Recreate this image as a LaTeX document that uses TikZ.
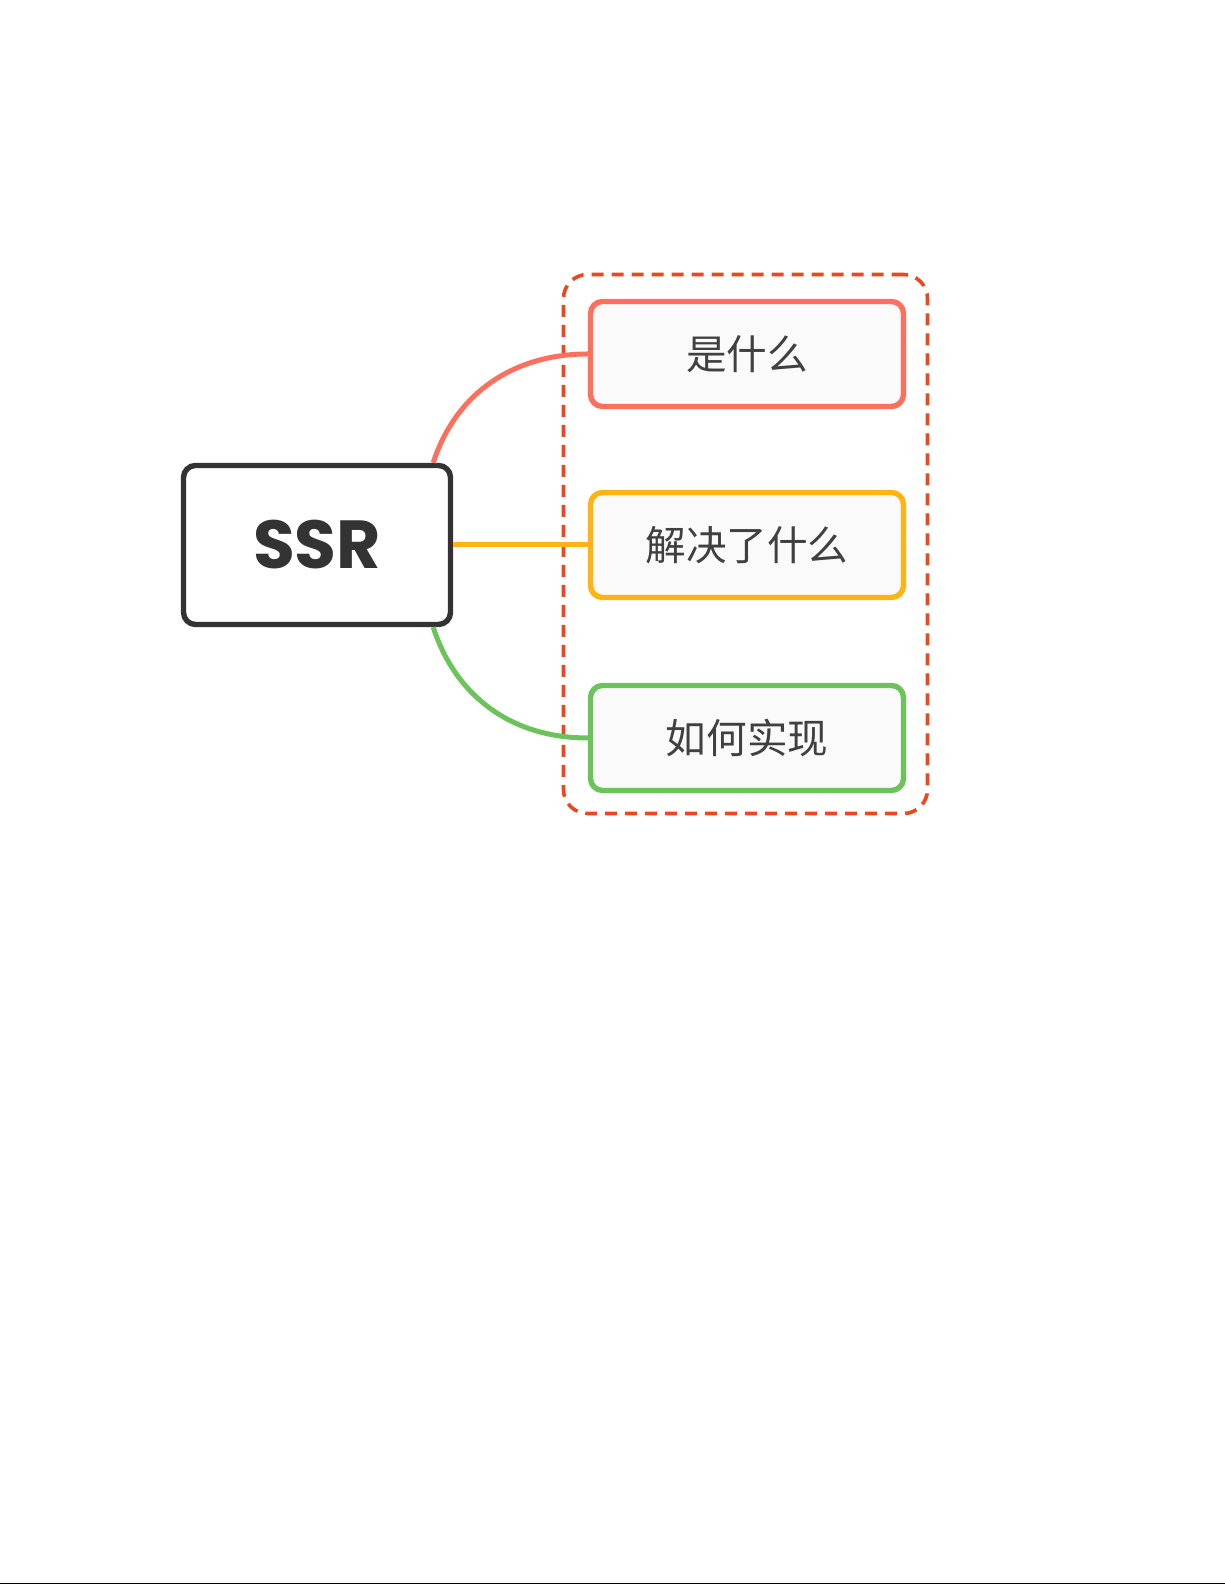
\documentclass[tikz,border=0pt]{standalone}
\usepackage{fontspec}
\setmainfont{Poppins}
\newfontfamily\cjk{Noto Sans CJK SC}

\definecolor{ssrgray}{HTML}{333333}
\definecolor{textgray}{HTML}{404040}
\definecolor{redish}{HTML}{FF6F5E}
\definecolor{amber}{HTML}{FFB414}
\definecolor{leaf}{HTML}{6CC35A}
\definecolor{dashred}{HTML}{F0461E}
\definecolor{boxfill}{HTML}{FAFAFA}

\tikzset{
    rootbox/.style={draw=ssrgray, line width=2.7pt, rounded corners=6pt, fill=white,
        minimum width=133.5pt, minimum height=79.5pt, inner sep=0pt,
        font=\fontsize{34}{38}\selectfont\bfseries, text=ssrgray},
    leafbox/.style={draw=#1, line width=2.7pt, rounded corners=6pt, fill=boxfill,
        minimum width=156.5pt, minimum height=52.5pt, inner sep=0pt,
        font=\cjk\fontsize{20.3}{24}\selectfont, text=textgray},
    groupbox/.style={draw=dashred, line width=1.8pt, rounded corners=12pt,
        dash pattern=on 6pt off 4pt, minimum width=182pt, minimum height=269.5pt},
    branch/.style={draw=#1, line width=2.5pt}
}

\begin{document}
\begin{tikzpicture}
    \useasboundingbox (0,0) rectangle (612.5pt,792.5pt);

    \node[groupbox] (group) at (372.75pt,520.5pt) {};

    \node[rootbox] (ssr) at (158.5pt,520pt) {SSR};
    \node[leafbox=redish] (what) at (373.5pt,615.5pt) {是什么};
    \node[leafbox=amber] (solve) at (373.5pt,520pt) {解决了什么};
    \node[leafbox=leaf] (how) at (373.5pt,423.5pt) {如何实现};

    \draw[branch=redish] ([xshift=-10pt]ssr.north east) to[out=72, in=180] (what.west);
    \draw[branch=amber] (ssr.east) to (solve.west);
    \draw[branch=leaf] ([xshift=-10pt]ssr.south east) to[out=-72, in=180] (how.west);

    % page edge
    \coordinate (edgeL) at (0,0.6pt);
    \coordinate (edgeR) at (612.5pt,0.6pt);
    \draw[line width=0.6pt] (edgeL) -- (edgeR);
\end{tikzpicture}
\end{document}
